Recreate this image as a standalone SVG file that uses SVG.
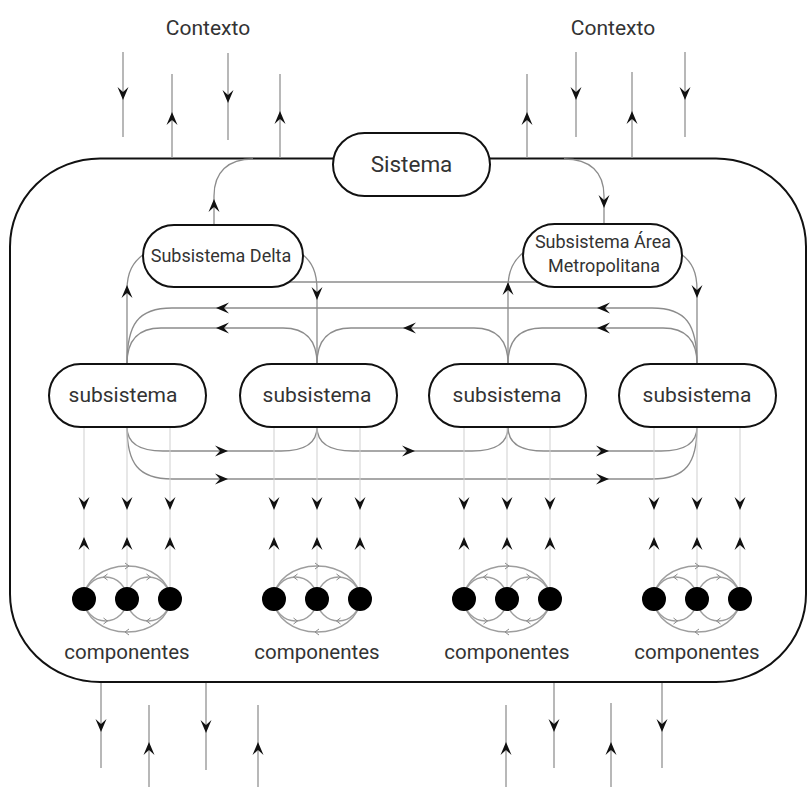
<svg xmlns="http://www.w3.org/2000/svg" xmlns:xlink="http://www.w3.org/1999/xlink" width="811" height="787" viewBox="0 0 811 787">
<style>
  .box{fill:#fff;stroke:#111;stroke-width:2}
  .outer{fill:none;stroke:#111;stroke-width:2}
  .ln{fill:none;stroke:#8c8c8c;stroke-width:1.3}
  .ctx{fill:none;stroke:#9a9a9a;stroke-width:1.4}
  .cl{fill:none;stroke:#cfcfcf;stroke-width:1}
  .ring{fill:none;stroke:#9e9e9e;stroke-width:1.4}
  .chev{fill:none;stroke:#8a8a8a;stroke-width:1}
  .t{font-family:Roboto,"Open Sans","Noto Sans",sans-serif;fill:#333;text-anchor:middle}
  .ah{fill:#111}
</style>
<defs>
  <!-- arrowhead pointing +x, tip at origin -->
  <path id="ah" d="M0,0 L-13,-5.5 L-8,0 L-13,5.5 Z"/>
  <path id="chv" d="M-2,-3 L2,0 L-2,3"/>
  <g id="cluster">
    <ellipse class="ring" cx="0" cy="0" rx="43" ry="33"/>
    <ellipse class="ring" cx="-21.5" cy="0" rx="21.5" ry="22"/>
    <ellipse class="ring" cx="21.5" cy="0" rx="21.5" ry="22"/>
    <use href="#chv" class="chev" x="0" y="-33"/>
    <use href="#chv" class="chev" transform="translate(0,33) rotate(180)"/>
    <use href="#chv" class="chev" transform="translate(-21.5,-22) rotate(180)"/>
    <use href="#chv" class="chev" x="21.5" y="-22"/>
    <use href="#chv" class="chev" x="-21.5" y="22"/>
    <use href="#chv" class="chev" transform="translate(21.5,22) rotate(180)"/>
    <circle cx="-43" cy="0" r="12" fill="#000"/>
    <circle cx="0" cy="0" r="12" fill="#000"/>
    <circle cx="43" cy="0" r="12" fill="#000"/>
  </g>
  <g id="clines">
    <line class="cl" x1="-43" y1="427" x2="-43" y2="595"/>
    <line class="cl" x1="0" y1="427" x2="0" y2="595"/>
    <line class="cl" x1="43" y1="427" x2="43" y2="595"/>
    <use href="#ah" class="ah" transform="translate(-43,510) rotate(90)"/>
    <use href="#ah" class="ah" transform="translate(0,510) rotate(90)"/>
    <use href="#ah" class="ah" transform="translate(43,510) rotate(90)"/>
    <use href="#ah" class="ah" transform="translate(-43,537) rotate(-90)"/>
    <use href="#ah" class="ah" transform="translate(0,537) rotate(-90)"/>
    <use href="#ah" class="ah" transform="translate(43,537) rotate(-90)"/>
  </g>
</defs>

<!-- outer system boundary -->
<rect id="boundary" class="outer" x="10" y="158.5" width="796" height="523.5" rx="90" ry="88"/>

<g id="connectors">
  <!-- context arrows top -->
  <line class="ctx" x1="123" y1="52" x2="123" y2="137"/>
  <line class="ctx" x1="172" y1="74" x2="172" y2="158"/>
  <line class="ctx" x1="228" y1="53" x2="228" y2="140"/>
  <line class="ctx" x1="280" y1="74" x2="280" y2="158"/>
  <line class="ctx" x1="527" y1="74" x2="527" y2="158"/>
  <line class="ctx" x1="576" y1="52" x2="576" y2="137"/>
  <line class="ctx" x1="632" y1="72" x2="632" y2="158"/>
  <line class="ctx" x1="685" y1="52" x2="685" y2="137"/>
  <use href="#ah" class="ah" transform="translate(123,100) rotate(90)"/>
  <use href="#ah" class="ah" transform="translate(172,112) rotate(-90)"/>
  <use href="#ah" class="ah" transform="translate(228,103) rotate(90)"/>
  <use href="#ah" class="ah" transform="translate(280,111) rotate(-90)"/>
  <use href="#ah" class="ah" transform="translate(527,112) rotate(-90)"/>
  <use href="#ah" class="ah" transform="translate(576,100) rotate(90)"/>
  <use href="#ah" class="ah" transform="translate(632,111) rotate(-90)"/>
  <use href="#ah" class="ah" transform="translate(685,100) rotate(90)"/>

  <!-- context arrows bottom -->
  <line class="ctx" x1="101" y1="683" x2="101" y2="768"/>
  <line class="ctx" x1="149" y1="705" x2="149" y2="787"/>
  <line class="ctx" x1="206" y1="683" x2="206" y2="770"/>
  <line class="ctx" x1="258" y1="705" x2="258" y2="787"/>
  <line class="ctx" x1="506" y1="705" x2="506" y2="787"/>
  <line class="ctx" x1="554" y1="683" x2="554" y2="768"/>
  <line class="ctx" x1="611" y1="703" x2="611" y2="787"/>
  <line class="ctx" x1="662" y1="683" x2="662" y2="768"/>
  <use href="#ah" class="ah" transform="translate(101,732) rotate(90)"/>
  <use href="#ah" class="ah" transform="translate(149,742) rotate(-90)"/>
  <use href="#ah" class="ah" transform="translate(206,733) rotate(90)"/>
  <use href="#ah" class="ah" transform="translate(258,742) rotate(-90)"/>
  <use href="#ah" class="ah" transform="translate(506,742) rotate(-90)"/>
  <use href="#ah" class="ah" transform="translate(554,732) rotate(90)"/>
  <use href="#ah" class="ah" transform="translate(611,742) rotate(-90)"/>
  <use href="#ah" class="ah" transform="translate(662,732) rotate(90)"/>

  <!-- Sistema to subsystems -->
  <path class="ln" d="M253,159 C228,159 214,172 214,196 L214,226"/>
  <use href="#ah" class="ah" transform="translate(214,199) rotate(-90)"/>
  <path class="ln" d="M564,159 C590,159 604,172 604,196 L604,225"/>
  <use href="#ah" class="ah" transform="translate(604,208) rotate(90)"/>

  <!-- Delta / Area to subsistemas -->
  <path class="ln" d="M144,254 C133,262 127,272 127,290 L127,364"/>
  <use href="#ah" class="ah" transform="translate(127,285) rotate(-90)"/>
  <path class="ln" d="M302,254 C312,262 317,272 317,290 L317,364"/>
  <use href="#ah" class="ah" transform="translate(317,300) rotate(90)"/>
  <path class="ln" d="M524,252 C514,260 508,270 508,288 L508,364"/>
  <use href="#ah" class="ah" transform="translate(508,282) rotate(-90)"/>
  <path class="ln" d="M681,254 C692,262 697,272 697,290 L697,364"/>
  <use href="#ah" class="ah" transform="translate(697,298) rotate(90)"/>
  <line class="ln" x1="290" y1="282" x2="545" y2="282"/>

  <!-- upper buses (leftward) -->
  <path class="ln" d="M127,364 C127,324 138,308 172,308 L652,308 C686,308 697,324 697,364"/>
  <path class="ln" d="M127,364 C127,342 137,328 161,328 L283,328 C307,328 317,342 317,364"/>
  <path class="ln" d="M317,364 C317,342 327,328 351,328 L474,328 C498,328 508,342 508,364"/>
  <path class="ln" d="M508,364 C508,342 518,328 542,328 L663,328 C687,328 697,342 697,364"/>
  <use href="#ah" class="ah" transform="translate(216,308) rotate(180)"/>
  <use href="#ah" class="ah" transform="translate(597,308) rotate(180)"/>
  <use href="#ah" class="ah" transform="translate(216,328) rotate(180)"/>
  <use href="#ah" class="ah" transform="translate(403,328) rotate(180)"/>
  <use href="#ah" class="ah" transform="translate(597,328) rotate(180)"/>

  <!-- lower buses (rightward) -->
  <path class="ln" d="M127,427 C127,463 138,479 172,479 L652,479 C686,479 697,463 697,427"/>
  <path class="ln" d="M127,427 C127,442 137,451 163,451 L281,451 C307,451 317,442 317,427"/>
  <path class="ln" d="M317,427 C317,442 327,451 353,451 L472,451 C498,451 508,442 508,427"/>
  <path class="ln" d="M508,427 C508,442 518,451 544,451 L661,451 C687,451 697,442 697,427"/>
  <use href="#ah" class="ah" transform="translate(228,451)"/>
  <use href="#ah" class="ah" transform="translate(415,451)"/>
  <use href="#ah" class="ah" transform="translate(609,451)"/>
  <use href="#ah" class="ah" transform="translate(228,479)"/>
  <use href="#ah" class="ah" transform="translate(609,479)"/>

  <!-- subsystem to component lines -->
  <use href="#clines" x="127"/>
  <use href="#clines" x="317"/>
  <use href="#clines" x="507"/>
  <use href="#clines" x="697"/>
</g>

<text class="t" x="208" y="35" font-size="21">Contexto</text>
<text class="t" x="613" y="35" font-size="21">Contexto</text>

<g id="sistema">
  <rect class="box" x="333" y="133" width="157" height="63" rx="31.5"/>
  <text class="t" x="411.5" y="172" font-size="22.5">Sistema</text>
</g>
<g id="subsistema-delta">
  <rect class="box" x="143" y="225" width="160" height="62" rx="31"/>
  <text class="t" x="221" y="262" font-size="18">Subsistema Delta</text>
</g>
<g id="subsistema-area">
  <rect class="box" x="523" y="224" width="159" height="63" rx="31.5"/>
  <text class="t" x="603" y="248" font-size="18">Subsistema Área</text>
  <text class="t" x="604" y="272" font-size="18">Metropolitana</text>
</g>
<g id="subsistema-1">
  <rect class="box" x="49" y="364" width="157" height="63" rx="31.5"/>
  <text class="t" x="123" y="402" font-size="21">subsistema</text>
</g>
<g id="subsistema-2">
  <rect class="box" x="240" y="364" width="157" height="63" rx="31.5"/>
  <text class="t" x="317" y="402" font-size="21">subsistema</text>
</g>
<g id="subsistema-3">
  <rect class="box" x="429" y="364" width="157" height="63" rx="31.5"/>
  <text class="t" x="507" y="402" font-size="21">subsistema</text>
</g>
<g id="subsistema-4">
  <rect class="box" x="619" y="364" width="157" height="63" rx="31.5"/>
  <text class="t" x="697" y="402" font-size="21">subsistema</text>
</g>

<g id="componentes-1">
  <use href="#cluster" x="127" y="599"/>
  <text class="t" x="127" y="659" font-size="20.5">componentes</text>
</g>
<g id="componentes-2">
  <use href="#cluster" x="317" y="599"/>
  <text class="t" x="317" y="659" font-size="20.5">componentes</text>
</g>
<g id="componentes-3">
  <use href="#cluster" x="507" y="599"/>
  <text class="t" x="507" y="659" font-size="20.5">componentes</text>
</g>
<g id="componentes-4">
  <use href="#cluster" x="697" y="599"/>
  <text class="t" x="697" y="659" font-size="20.5">componentes</text>
</g>
</svg>
